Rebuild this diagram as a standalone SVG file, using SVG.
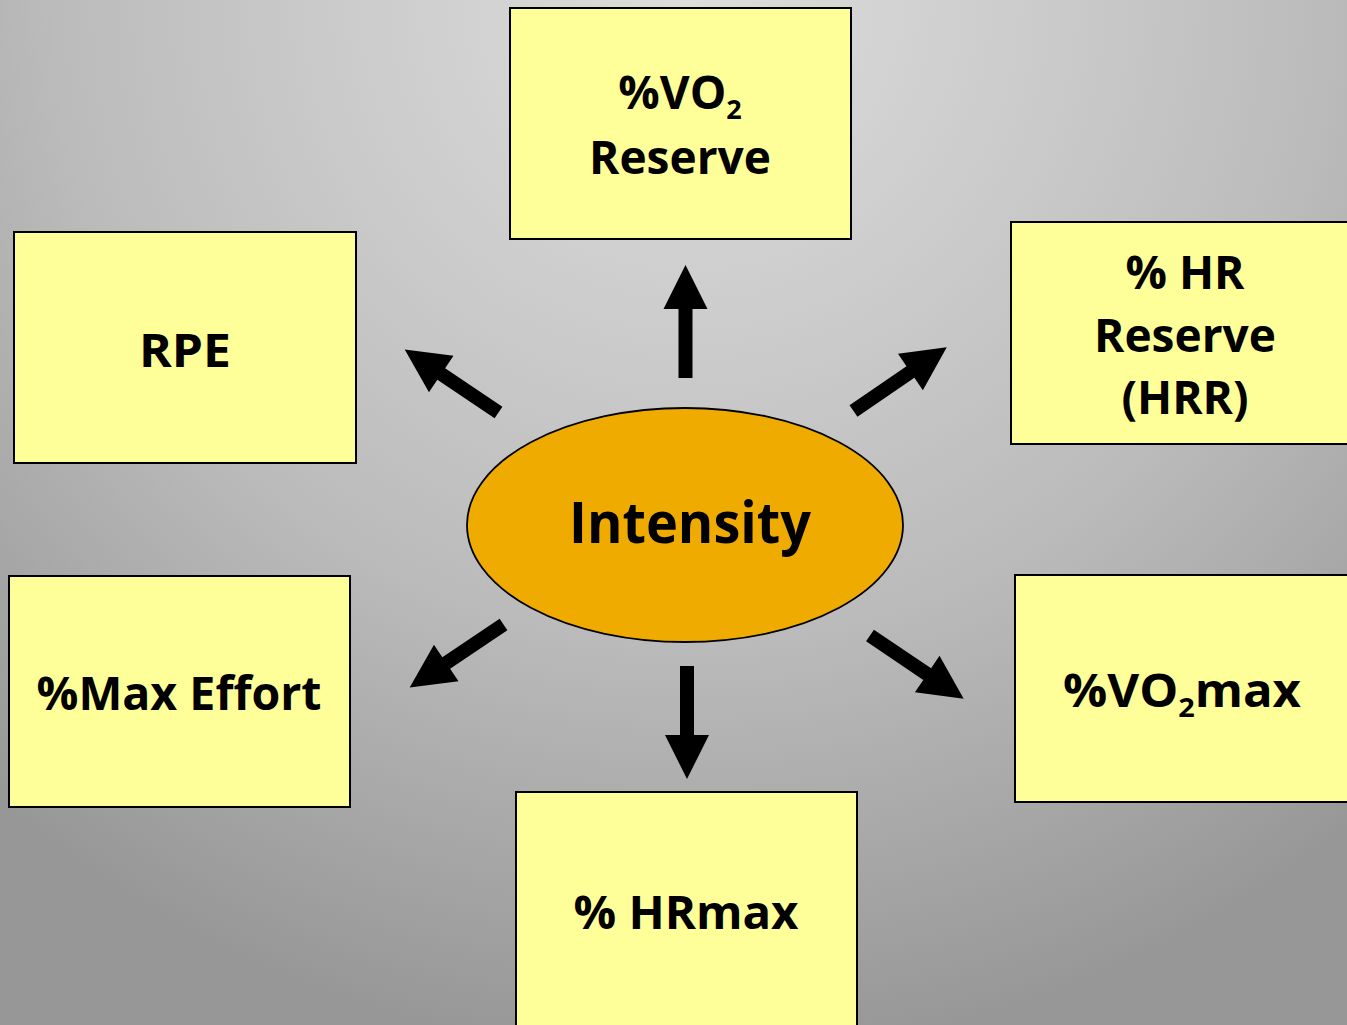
<svg xmlns="http://www.w3.org/2000/svg" xmlns:xlink="http://www.w3.org/1999/xlink" width="1347" height="1025" viewBox="0 0 1347 1025">
  <defs>
    <radialGradient id="bg" gradientUnits="userSpaceOnUse" cx="690" cy="0" r="1060">
      <stop offset="0" stop-color="#dddddd"/>
      <stop offset="0.35" stop-color="#cacaca"/>
      <stop offset="0.6" stop-color="#bbbbbb"/>
      <stop offset="1" stop-color="#979797"/>
    </radialGradient>
    <path id="arrow" d="M0,-7 L69,-7 L69,-22 L113,0 L69,22 L69,7 L0,7 Z"/>
  </defs>
  <style>
    .box { fill: #ffff99; stroke: #000000; stroke-width: 2; }
    .ell { fill: #f0ab00; stroke: #000000; stroke-width: 1.8; }
    .t { font-family: "Open Sans", "Noto Sans", sans-serif; font-weight: bold; font-size: 46px; fill: #000000; text-anchor: middle; }
    .big { font-size: 58px; }
    .sub { font-size: 27px; }
    .arr { fill: #000000; }
  </style>
  <rect x="0" y="0" width="1347" height="1025" fill="url(#bg)"/>

  <g id="connectors">
    <use xlink:href="#arrow" class="arr" transform="translate(685.5,378) rotate(-90)"/>
    <use xlink:href="#arrow" class="arr" transform="translate(687,666) rotate(90)"/>
    <use xlink:href="#arrow" class="arr" transform="translate(853.5,411) rotate(-34.4)"/>
    <use xlink:href="#arrow" class="arr" transform="translate(498.5,412.5) rotate(-146.1)"/>
    <use xlink:href="#arrow" class="arr" transform="translate(503.5,624.5) rotate(146.1)"/>
    <use xlink:href="#arrow" class="arr" transform="translate(870,635.5) rotate(34)"/>
  </g>

  <g id="node-vo2reserve">
    <rect class="box" x="510" y="8" width="341" height="231"/>
    <text class="t" x="680" y="109">%VO<tspan class="sub" dy="10">2</tspan></text>
    <text class="t" x="680" y="174">Reserve</text>
  </g>

  <g id="node-rpe">
    <rect class="box" x="14" y="232" width="342" height="231"/>
    <text class="t" x="185" y="367" textLength="92" lengthAdjust="spacingAndGlyphs">RPE</text>
  </g>

  <g id="node-hrr">
    <rect class="box" x="1011" y="222" width="345" height="222"/>
    <text class="t" x="1185" y="289">% HR</text>
    <text class="t" x="1185" y="352">Reserve</text>
    <text class="t" x="1185" y="414">(HRR)</text>
  </g>

  <g id="node-maxeffort">
    <rect class="box" x="9" y="576" width="341" height="231"/>
    <text class="t" x="179" y="710" textLength="285" lengthAdjust="spacingAndGlyphs">%Max Effort</text>
  </g>

  <g id="node-vo2max">
    <rect class="box" x="1015" y="575" width="341" height="227"/>
    <text class="t" x="1182" y="707" textLength="238" lengthAdjust="spacingAndGlyphs">%VO<tspan class="sub" dy="10">2</tspan><tspan dy="-10">max</tspan></text>
  </g>

  <g id="node-hrmax">
    <rect class="box" x="516" y="792" width="341" height="245"/>
    <text class="t" x="686" y="929" textLength="225" lengthAdjust="spacingAndGlyphs">% HRmax</text>
  </g>

  <g id="node-intensity">
    <ellipse class="ell" cx="685" cy="525" rx="218" ry="117"/>
    <text class="t big" x="690" y="543" textLength="242" lengthAdjust="spacingAndGlyphs">Intensity</text>
  </g>
</svg>
